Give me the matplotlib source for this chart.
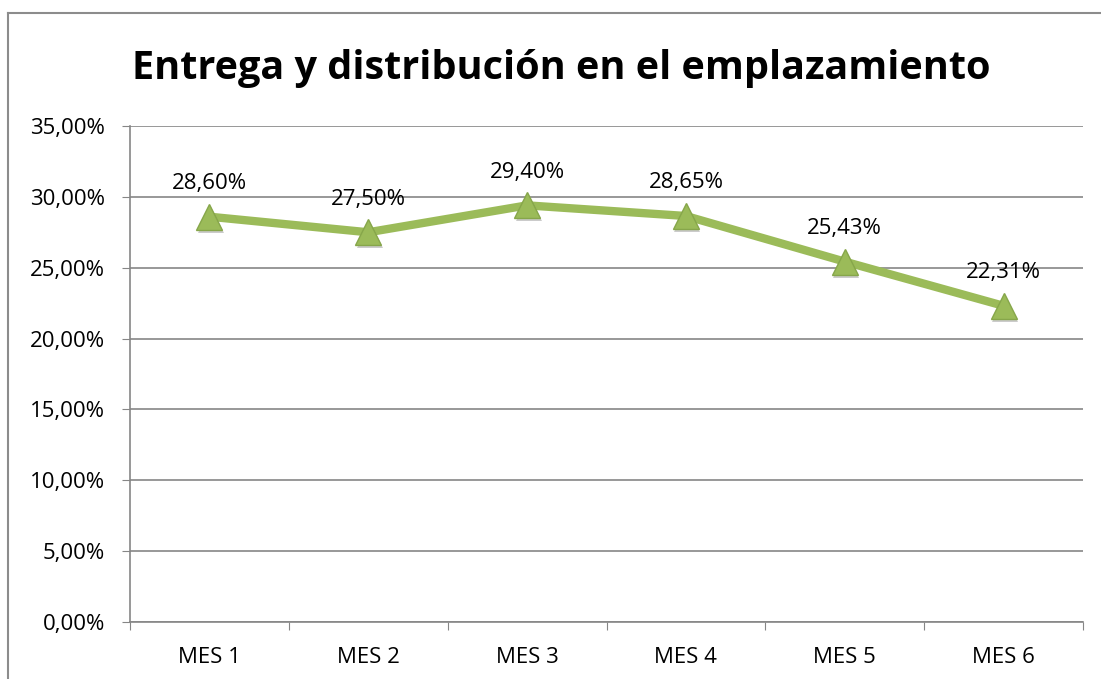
import matplotlib
matplotlib.use("Agg")
import matplotlib.pyplot as plt
import matplotlib.transforms as mtransforms
from matplotlib.lines import Line2D
from matplotlib.ticker import FixedLocator, FuncFormatter

# data
meses = ["MES 1", "MES 2", "MES 3", "MES 4", "MES 5", "MES 6"]
valores = [0.2860, 0.2750, 0.2940, 0.2865, 0.2543, 0.2231]
titulo = "Entrega y distribución en el emplazamiento"

plt.rcParams['font.family'] = ['Open Sans', 'DejaVu Sans']

W, H = 1101, 679
fig = plt.figure(figsize=(W / 100, H / 100), dpi=100)
ax = fig.add_axes([130 / W, 1 - 622 / H, (1083 - 130) / W, (622 - 126) / H])

def pct(v, pos=None):
    return ("%.2f%%" % (v * 100)).replace(".", ",")

x = [i + 0.5 for i in range(len(meses))]
verde = "#9BBB59"
ax.plot(x, valores, color=verde, lw=6, solid_capstyle="butt", zorder=3)

# soft shadow under the markers
sombra = mtransforms.offset_copy(ax.transData, fig=fig, x=1.5, y=-3, units="dots")
ax.plot(x, valores, ls="none", marker="^", ms=19, color="#555555", alpha=0.3,
        markeredgewidth=0, transform=sombra, zorder=3.5)
ax.plot(x, valores, ls="none", marker="^", ms=19, color=verde,
        markeredgecolor="#86a64a", markeredgewidth=1, zorder=4)

for xi, v in zip(x, valores):
    ax.annotate(pct(v), (xi, v), xytext=(0, 20), textcoords="offset points",
                ha="center", va="baseline", fontsize=16, color="black", zorder=5)

ax.set_xlim(0, len(meses))
ax.set_ylim(0, 0.35)
ax.yaxis.set_major_locator(FixedLocator([i * 0.05 for i in range(8)]))
ax.yaxis.set_major_formatter(FuncFormatter(pct))
ax.grid(axis="y", color="#868686", lw=1.2, zorder=0)

ax.set_xticks(range(len(meses) + 1))
ax.set_xticklabels([])
ax.set_xticks(x, minor=True)
ax.set_xticklabels(meses, minor=True)
ax.tick_params(axis="x", which="minor", length=0, pad=18, labelsize=16)
ax.tick_params(axis="x", which="major", length=6, color="#868686", direction="out")
ax.tick_params(axis="y", length=6, color="#868686", pad=12, labelsize=16)

for s in ["top", "right"]:
    ax.spines[s].set_visible(False)
for s in ["left", "bottom"]:
    ax.spines[s].set_color("#868686")
    ax.spines[s].set_linewidth(1.2)

fig.text(561 / W, 1 - 68 / H, titulo, ha="center", va="center",
         fontsize=28.5, fontweight="bold")

# outer chart border (only left and top visible)
fig.add_artist(Line2D([8 / W, 8 / W], [0, 1 - 13 / H], color="#8c8c8c", lw=1.5,
                      transform=fig.transFigure))
fig.add_artist(Line2D([8 / W, 1], [1 - 13 / H, 1 - 13 / H], color="#8c8c8c", lw=1.5,
                      transform=fig.transFigure))

fig.savefig("out.png", dpi=100)
